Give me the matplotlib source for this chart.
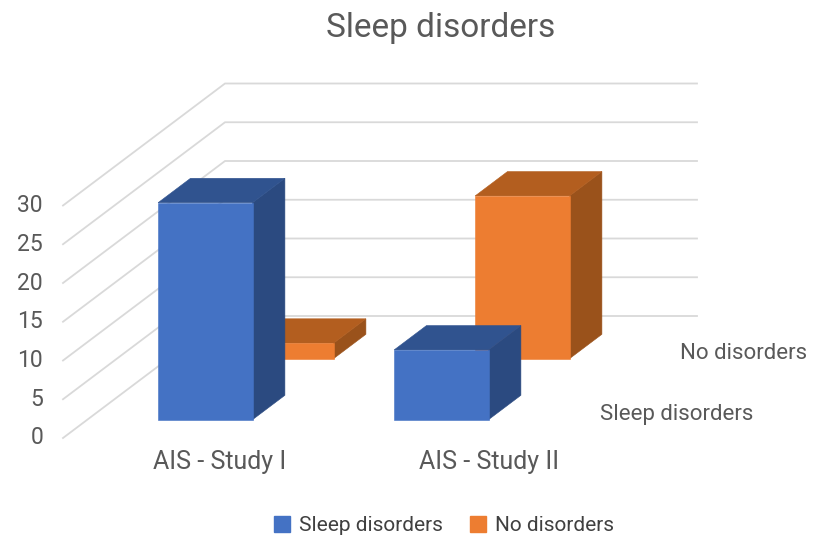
import matplotlib.pyplot as plt
from matplotlib.patches import Polygon, Patch

plt.rcParams['font.family'] = ['Roboto', 'DejaVu Sans']

categories = ['AIS - Study I', 'AIS - Study II']
series = ['Sleep disorders', 'No disorders']
sleep_disorders = [28, 9]
no_disorders = [2, 21]
y_ticks = [0, 5, 10, 15, 20, 25, 30]

front_colors = ['#4472C4', '#ED7D31']
top_colors = ['#30538F', '#B35E1F']
side_colors = ['#2B4A80', '#9A521B']
text_color = '#595959'
grid_color = '#D9D9D9'

# oblique projection: (category position, depth 0..1, value) -> canvas pixels
X0, Y0 = 63, 438
CAT_W = 236
DEPTH_DX, DEPTH_DY = 162, -122
Z_SCALE = 7.75


def proj(x, d, z):
    return (X0 + x * CAT_W + d * DEPTH_DX, Y0 + d * DEPTH_DY - z * Z_SCALE)


fig = plt.figure(figsize=(8.14, 5.40), dpi=100)
ax = fig.add_axes([0, 0, 1, 1])
ax.set_xlim(0, 814)
ax.set_ylim(540, 0)
ax.axis('off')

n_cat = len(categories)

# gridlines on the side wall and the back wall
for t in y_ticks:
    xa, ya = proj(0, 0, t)
    xb, yb = proj(0, 1, t)
    xc, yc = proj(n_cat, 1, t)
    ax.plot([xa, xb, xc], [ya, yb, yc], color=grid_color, lw=1.3, zorder=1,
            solid_joinstyle='miter')
    ax.text(xa - 20, ya, str(t), ha='right', va='center', fontsize=16.5,
            color=text_color)


def draw_bar(i, row, value, z):
    x0, x1 = i + 0.3, i + 0.7
    dc = 0.25 + 0.5 * row
    d0, d1 = dc - 0.1, dc + 0.1
    front = [proj(x0, d0, 0), proj(x1, d0, 0), proj(x1, d0, value), proj(x0, d0, value)]
    top = [proj(x0, d0, value), proj(x1, d0, value), proj(x1, d1, value), proj(x0, d1, value)]
    side = [proj(x1, d0, 0), proj(x1, d1, 0), proj(x1, d1, value), proj(x1, d0, value)]
    for pts, col in [(side, side_colors[row]), (top, top_colors[row]), (front, front_colors[row])]:
        ax.add_patch(Polygon(pts, closed=True, facecolor=col, edgecolor=col,
                             lw=0.4, zorder=z))


# back row first so the front row covers it
rows = [sleep_disorders, no_disorders]
for row in [1, 0]:
    for i, v in enumerate(rows[row]):
        draw_bar(i, row, v, z=3 + (1 - row) * 2)

# category labels along the front edge
cat_shift = [39, 72]
for i, name in enumerate(categories):
    x, y = proj(i + 0.5, 0, 0)
    ax.text(x + cat_shift[i], y + 24, name, ha='center', va='center',
            fontsize=18, color=text_color)

# series labels along the depth axis
for row, name in enumerate(series):
    x, y = proj(n_cat, 0.25 + 0.5 * row, 0)
    ax.text(x + 24, y + 7, name, ha='left', va='center', fontsize=16,
            color=text_color)

ax.text(441, 28, 'Sleep disorders', ha='center', va='center', fontsize=24,
        color=text_color)

handles = [Patch(facecolor=c, edgecolor=c) for c in front_colors]
ax.legend(handles, series, loc='center', bbox_to_anchor=(0.545, 0.027),
          ncol=2, frameon=False, fontsize=15, labelcolor='#404040',
          handlelength=0.8, handleheight=0.8, handletextpad=0.4,
          columnspacing=1.3)

fig.savefig('out.png', dpi=100)
